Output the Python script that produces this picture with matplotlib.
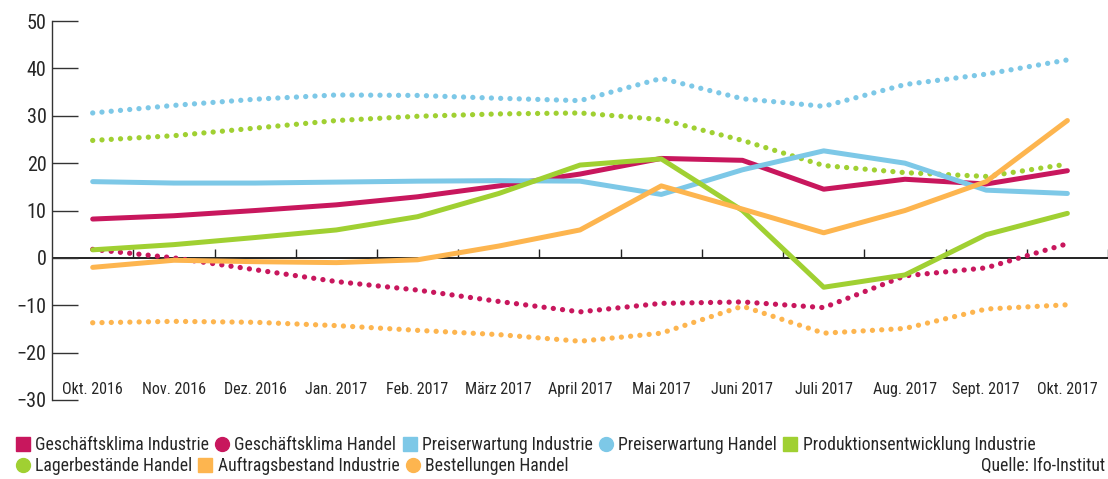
import matplotlib
matplotlib.use("Agg")
import matplotlib.pyplot as plt
from matplotlib.lines import Line2D
import numpy as np

plt.rcParams['font.family'] = ['Liberation Sans Narrow', 'Roboto Condensed', 'Liberation Sans', 'DejaVu Sans']

# ─── Daten ─────────────────────────────
monate = ["Okt. 2016", "Nov. 2016", "Dez. 2016", "Jan. 2017", "Feb. 2017", "März 2017",
          "April 2017", "Mai 2017", "Juni 2017", "Juli 2017", "Aug. 2017", "Sept. 2017", "Okt. 2017"]

klima_industrie   = [8.2, 8.9, 10.0, 11.2, 12.9, 15.2, 17.7, 21.0, 20.6, 14.5, 16.6, 15.6, 18.4]
klima_handel      = [1.8, 0.0, -2.5, -5.0, -6.8, -9.2, -11.4, -9.6, -9.3, -10.5, -3.8, -2.1, 3.0]
preis_industrie   = [16.1, 15.8, 15.8, 16.0, 16.2, 16.3, 16.2, 13.4, 18.6, 22.6, 20.0, 14.3, 13.6]
preis_handel      = [30.6, 32.2, 33.5, 34.4, 34.3, 33.7, 33.2, 37.9, 33.6, 32.0, 36.6, 38.8, 41.8]
produktion_ind    = [1.7, 2.8, 4.3, 5.9, 8.7, 13.6, 19.6, 20.9, 10.0, -6.2, -3.6, 4.9, 9.4]
lager_handel      = [24.8, 25.8, 27.4, 29.0, 29.9, 30.4, 30.6, 29.2, 24.8, 19.5, 18.0, 17.2, 19.8]
auftrag_industrie = [-2.0, -0.5, -0.8, -1.0, -0.4, 2.5, 5.9, 15.2, 10.3, 5.3, 10.0, 16.1, 29.0]
bestell_handel    = [-13.7, -13.4, -13.6, -14.3, -15.3, -16.2, -17.6, -15.9, -10.2, -15.9, -14.9, -10.8, -9.9]

yticks = [-30, -20, -10, 0, 10, 20, 30, 40, 50]

ROT    = "#C8175D"
BLAU   = "#7DC8E7"
GRUEN  = "#A0D032"
ORANGE = "#FDB54F"
TEXT   = "#262626"

serien = [
    ("Geschäftsklima Industrie",        klima_industrie,   ROT,    "s", False),
    ("Geschäftsklima Handel",           klima_handel,      ROT,    "o", True),
    ("Preiserwartung Industrie",        preis_industrie,   BLAU,   "s", False),
    ("Preiserwartung Handel",           preis_handel,      BLAU,   "o", True),
    ("Produktionsentwicklung Industrie", produktion_ind,   GRUEN,  "s", False),
    ("Lagerbestände Handel",            lager_handel,      GRUEN,  "o", True),
    ("Auftragsbestand Industrie",       auftrag_industrie, ORANGE, "s", False),
    ("Bestellungen Handel",             bestell_handel,    ORANGE, "o", True),
]

# ─── Grafik ─────────────────────────────
fig = plt.figure(figsize=(11.08, 4.79), dpi=100)
ax = fig.add_axes([0.047, 0.165, 0.953, 0.791])

x = np.arange(len(monate))
for name, werte, farbe, marker, gepunktet in serien:
    if gepunktet:
        ax.plot(x, werte, color=farbe, linewidth=3.8, linestyle=(0, (0.01, 1.75)),
                dash_capstyle="round", solid_joinstyle="round", zorder=2)
    else:
        ax.plot(x, werte, color=farbe, linewidth=3.6, solid_capstyle="round",
                solid_joinstyle="round", zorder=3)

ax.set_xlim(-0.5, len(monate) - 0.5)
ax.set_ylim(-30, 50)
ax.set_yticks(yticks)
ax.set_yticklabels([str(v).replace("-", "\u2212") for v in yticks], fontsize=14.5, color=TEXT)
ax.tick_params(axis="y", direction="in", length=19, width=1.0, color="#333333", pad=4)
ax.set_xticks([])

for s in ["top", "right", "bottom"]:
    ax.spines[s].set_visible(False)
ax.spines["left"].set_color("#333333")
ax.spines["left"].set_linewidth(1.0)

# Nulllinie mit Markierungen zwischen den Monaten
ax.axhline(0, color="#222222", linewidth=1.4, zorder=1)
grenzen = x + 0.5
ax.vlines(grenzen, 0, 1.9, color="#222222", linewidth=1.0, zorder=1)

for i, m in enumerate(monate):
    ax.text(i, -27.7, m, ha="center", va="center", fontsize=11.5, color=TEXT)

# ─── Legende ─────────────────────────────
def griff(farbe, marker):
    return Line2D([], [], linestyle="none", marker=marker, markersize=10,
                  markerfacecolor=farbe, markeredgecolor=farbe)

reihe1 = serien[:5]
reihe2 = serien[5:]
for reihe, ypos in [(reihe1, 0.071), (reihe2, 0.027)]:
    leg = fig.legend([griff(f, m) for _, _, f, m, _ in reihe], [n for n, _, _, _, _ in reihe],
                     loc="center left", bbox_to_anchor=(0.014, ypos), ncol=len(reihe),
                     frameon=False, fontsize=12.7, handlelength=0.8, handletextpad=0.3,
                     columnspacing=0.35, borderpad=0, borderaxespad=0)
    for t in leg.get_texts():
        t.set_color(TEXT)

fig.text(0.997, 0.027, "Quelle: Ifo-Institut", ha="right", va="center", fontsize=12.7, color=TEXT)

fig.savefig("out.png", dpi=100)
